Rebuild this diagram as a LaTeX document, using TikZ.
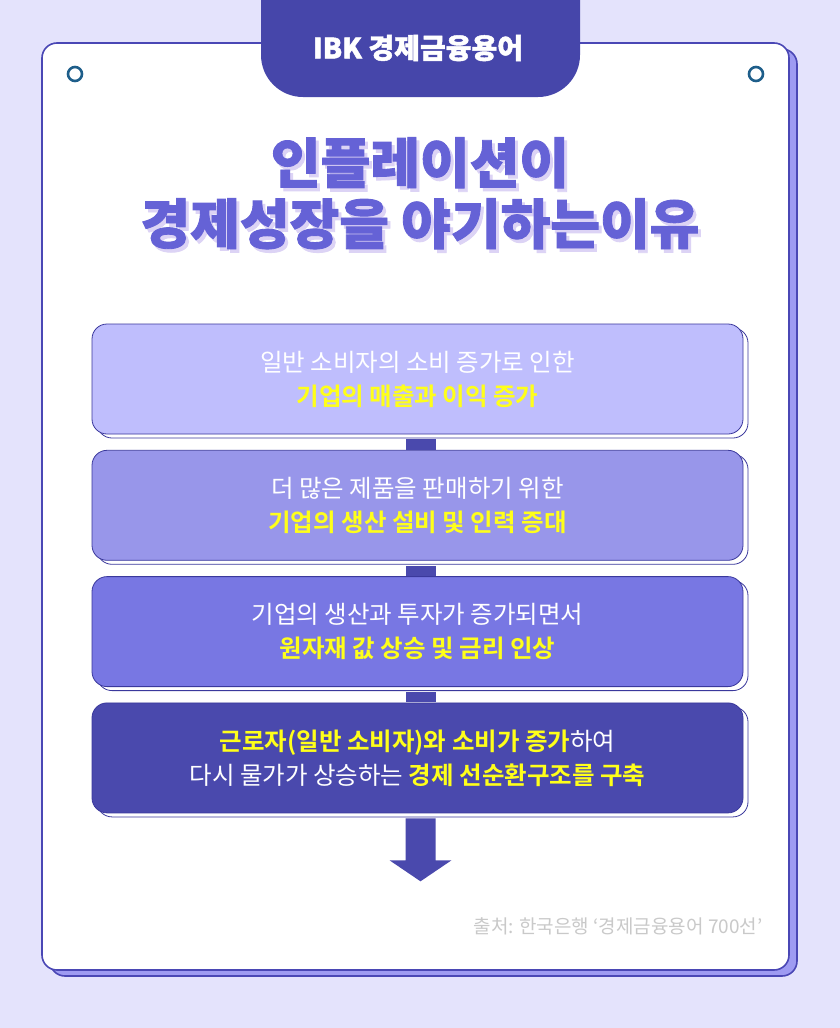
\documentclass[tikz,border=0pt]{standalone}
\usepackage{fontspec}
\setmainfont{Noto Sans CJK KR}[BoldFont={Noto Sans CJK KR Bold}]
\newfontfamily\heavy{Noto Sans CJK KR Black}[FakeBold=1.6]
\usetikzlibrary{positioning,shadows}

\definecolor{bgcol}{HTML}{E4E3FC}
\definecolor{cardline}{HTML}{4A47B5}
\definecolor{cardshadow}{HTML}{9E9BF2}
\definecolor{tabfill}{HTML}{4646AA}
\definecolor{ringcol}{HTML}{1E5E8A}
\definecolor{titlecol}{HTML}{6562D6}
\definecolor{titleshadow}{HTML}{DCD3F5}
\definecolor{boxA}{HTML}{BFBEFD}
\definecolor{boxB}{HTML}{9896EA}
\definecolor{boxC}{HTML}{7877E3}
\definecolor{boxD}{HTML}{4A49AD}
\definecolor{boxline}{HTML}{3A389C}
\definecolor{hlyellow}{HTML}{FFFF1A}
\definecolor{srcgray}{HTML}{C9C9C9}

\newcommand\hl[1]{{\bfseries\color{hlyellow}#1}}
\newcommand\dropline[1]{\makebox[0pt][l]{\kern3pt\raisebox{-3.5pt}{\color{titleshadow}#1}}#1}

\tikzset{
  stepbox/.style={draw=boxline, line width=0.8pt, rounded corners=15pt,
    minimum width=651pt, minimum height=110pt, align=center, text=white,
    font=\fontsize{24.5}{34}\selectfont,
    copy shadow={shadow xshift=5pt, shadow yshift=-4pt, fill=white, draw=boxline, line width=0.8pt}},
  dotring/.style={draw=ringcol, line width=2.6pt},
}

\begin{document}
\begin{tikzpicture}[x=1pt,y=-1pt]
  \useasboundingbox (0,0) rectangle (840,1028);
  \fill[bgcol] (0,0) rectangle (840,1028);
  % card
  \draw[cardline, line width=1.6pt, fill=white, rounded corners=15pt,
    copy shadow={shadow xshift=8pt, shadow yshift=-6pt, fill=cardshadow, draw=cardline, line width=1.6pt}]
    (42,43) rectangle (789,970);
  \begin{scope}
    \clip (0,0) rectangle (840,1028);
    \fill[tabfill, rounded corners=42pt] (261,-60) rectangle (580,97);
  \end{scope}
  \node[text=white, font=\heavy\fontsize{28}{30}\selectfont] (tab) at (418,48) {IBK 경제금융용어};
  \draw[dotring] (75,74) circle (7pt);
  \draw[dotring] (756,74) circle (7pt);
  % title
  \node[align=center, text=titlecol, font=\heavy\fontsize{54}{61}\selectfont] (title) at (420,195)
    {\dropline{인플레이션이}\\\dropline{경제성장을 야기하는이유}};
  % steps
  \node[stepbox, fill=boxA] (b1) at (417.5,379) {일반 소비자의 소비 증가로 인한\\\hl{기업의 매출과 이익 증가}};
  \node[stepbox, fill=boxB, below=15.5pt of b1] (b2) {더 많은 제품을 판매하기 위한\\\hl{기업의 생산 설비 및 인력 증대}};
  \node[stepbox, fill=boxC, below=15.5pt of b2] (b3) {기업의 생산과 투자가 증가되면서\\\hl{원자재 값 상승 및 금리 인상}};
  \node[stepbox, fill=boxD, below=15.5pt of b3] (b4) {\hl{근로자(일반 소비자)와 소비가 증가}하여\\다시 물가가 상승하는 \hl{경제 선순환구조를 구축}};
  \foreach \a/\b in {b1/b2,b2/b3,b3/b4}
    \fill[boxD] ([xshift=-12pt,yshift=-5pt]\a.south) rectangle ([xshift=18pt,yshift=0.4pt]\b.north);
  % arrow
  \coordinate (tip) at ([xshift=3pt,yshift=-68pt]b4.south);
  \fill[boxD] ([xshift=-12pt,yshift=-5pt]b4.south) -- ([xshift=-12pt,yshift=-47pt]b4.south)
    -- ([xshift=-28pt,yshift=-47pt]b4.south) -- (tip) -- ([xshift=34pt,yshift=-47pt]b4.south)
    -- ([xshift=18pt,yshift=-47pt]b4.south) -- ([xshift=18pt,yshift=-5pt]b4.south) -- cycle;
  \node[anchor=east, text=srcgray, font=\fontsize{19}{22}\selectfont] (src) at (766,926) {출처: 한국은행 ‘경제금융용어 700선’};
\end{tikzpicture}
\end{document}
